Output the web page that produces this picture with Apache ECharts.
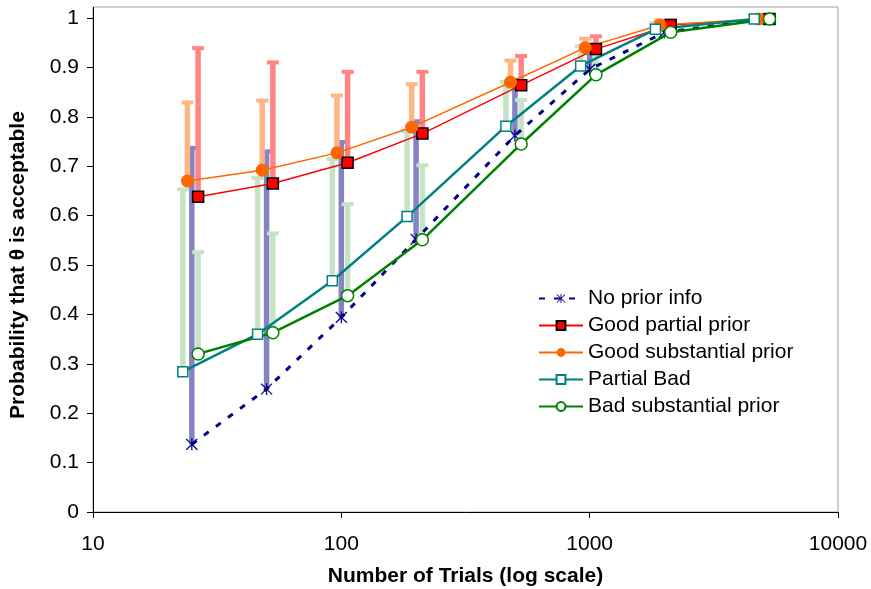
<!DOCTYPE html>
<html><head><meta charset="utf-8">
<script src="https://cdn.jsdelivr.net/npm/echarts@6/dist/echarts.min.js"></script>
<style>html,body{margin:0;padding:0;background:#fff}#c{width:871px;height:589px}</style>
</head><body><div id="c"></div>
<script>
// ---- data ----
const seriesNames = ['No prior info','Good partial prior','Good substantial prior','Partial Bad','Bad substantial prior'];
const xTickLabels = [10, 100, 1000, 10000];
const yTickLabels = [0,0.1,0.2,0.3,0.4,0.5,0.6,0.7,0.8,0.9,1];

// x positions (number of trials) as plotted for each series
const xNoPrior     = [25, 50, 100, 200, 500, 1000, 2000, 5000];
const xGoodPartial = [26.5, 53, 106, 212, 530, 1060, 2120, 5300];
const xGoodSubst   = [24, 48, 96, 192, 480, 960, 1920, 4800];
const xPartialBad  = [23, 46, 92, 184, 460, 920, 1840, 4600];
const xBadSubst    = [26.5, 53, 106, 212, 530, 1060, 2120, 5300];

// probabilities
const yNoPrior     = [0.137, 0.249, 0.394, 0.552, 0.762, 0.896, 0.971, 0.998];
const yGoodPartial = [0.638, 0.665, 0.707, 0.766, 0.864, 0.937, 0.986, 0.998];
const yGoodSubst   = [0.670, 0.692, 0.727, 0.779, 0.870, 0.940, 0.986, 0.998];
const yPartialBad  = [0.284, 0.360, 0.468, 0.598, 0.781, 0.903, 0.977, 0.998];
const yBadSubst    = [0.320, 0.363, 0.438, 0.551, 0.745, 0.885, 0.971, 0.998];

// upper ends of the error bars
const upNoPrior     = [0.737, 0.730, 0.749, 0.791, 0.875, 0.929, 0.990, 1.0];
const upGoodPartial = [0.939, 0.910, 0.891, 0.891, 0.923, 0.963, 0.995, 1.0];
const upGoodSubst   = [0.829, 0.833, 0.843, 0.866, 0.914, 0.958, 0.995, 1.0];
const upPartialBad  = [0.653, 0.676, 0.715, 0.771, 0.871, 0.943, 0.990, 1.0];
const upBadSubst    = [0.526, 0.564, 0.623, 0.702, 0.834, 0.935, 0.990, 1.0];

// ---- chart ----
const FONT = "'Liberation Sans', Arial, sans-serif";
const zip2 = (xs, ys) => xs.map((x, i) => [x, ys[i]]);
const zip3 = (xs, ys, us) => xs.map((x, i) => [x, ys[i], us[i]]);

function errBar(name, xs, ys, us, color) {
  return {
    name: name, type: 'custom', silent: true, clip: false, z: 1,
    data: zip3(xs, ys, us),
    encode: { x: 0, y: [1, 2] },
    renderItem: function (params, api) {
      const x = api.value(0);
      const p0 = api.coord([x, api.value(1)]);
      const p1 = api.coord([x, api.value(2)]);
      const bw = 5.5, cw = 12, ch = 4;
      const h = p0[1] - p1[1];
      if (h < 1) return null;
      return {
        type: 'group',
        children: [
          { type: 'rect', shape: { x: p0[0] - bw / 2, y: p1[1], width: bw, height: h }, style: { fill: color } },
          { type: 'rect', shape: { x: p0[0] - cw / 2, y: p1[1] - ch / 2, width: cw, height: ch }, style: { fill: color } }
        ]
      };
    }
  };
}

const asterisk = 'path://M9,0 L11,0 L11,20 L9,20 Z M1.7,0.3 L19.7,18.3 L18.3,19.7 L0.3,1.7 Z M18.3,0.3 L19.7,1.7 L1.7,19.7 L0.3,18.3 Z';

const chart = echarts.init(document.getElementById('c'), null, { renderer: 'canvas' });
chart.setOption({
  animation: false,
  backgroundColor: '#fff',
  textStyle: { fontFamily: FONT },
  grid: { left: 93, right: 33, top: 18, bottom: 77, containLabel: false, outerBoundsMode: 'none' },
  graphic: [
    { type: 'rect', z: -1, shape: { x: 93, y: 7, width: 745, height: 505 }, style: { fill: 'none', stroke: '#a0a0a0', lineWidth: 1 } },
    { type: 'line', z: 10, shape: { x1: 93.5, y1: 7, x2: 93.5, y2: 18 }, style: { stroke: '#000', lineWidth: 1 } }
  ],
  legend: {
    orient: 'vertical', left: 533, top: 283,
    itemWidth: 44, itemHeight: 11, itemGap: 6,
    textStyle: { fontFamily: FONT, fontSize: 21, color: '#000' },
    data: seriesNames
  },
  xAxis: {
    type: 'log', logBase: 10, min: xTickLabels[0], max: xTickLabels[xTickLabels.length - 1],
    name: 'Number of Trials (log scale)', nameLocation: 'middle', nameGap: 54,
    nameTextStyle: { fontFamily: FONT, fontSize: 21, fontWeight: 'bold', color: '#000' },
    axisLine: { lineStyle: { color: '#000', width: 1 } },
    axisTick: { show: true, inside: false, length: 6, lineStyle: { color: '#000' } },
    minorTick: { show: false },
    splitLine: { show: false },
    axisLabel: { fontFamily: FONT, fontSize: 21, color: '#000', margin: 22,
      formatter: v => String(Math.round(v)) }
  },
  yAxis: {
    type: 'value', min: yTickLabels[0], max: yTickLabels[yTickLabels.length - 1], interval: 0.1,
    name: 'Probability that θ is acceptable', nameLocation: 'middle', nameGap: 64, nameRotate: 90,
    nameTextStyle: { fontFamily: FONT, fontSize: 21, fontWeight: 'bold', color: '#000' },
    axisLine: { show: true, lineStyle: { color: '#000', width: 1 } },
    axisTick: { show: true, inside: false, length: 6, lineStyle: { color: '#000' } },
    splitLine: { show: false },
    axisLabel: { fontFamily: FONT, fontSize: 21, color: '#000', margin: 14,
      formatter: v => (v === 0 || v === 1) ? String(v) : v.toFixed(1) }
  },
  series: [
    errBar('eb-noprior', xNoPrior, yNoPrior, upNoPrior, '#8484c2'),
    errBar('eb-partialbad', xPartialBad, yPartialBad, upPartialBad, '#c6e3c6'),
    errBar('eb-badsubst', xBadSubst, yBadSubst, upBadSubst, '#c6e3c6'),
    errBar('eb-goodsubst', xGoodSubst, yGoodSubst, upGoodSubst, '#ffb584'),
    errBar('eb-goodpartial', xGoodPartial, yGoodPartial, upGoodPartial, '#ff8484'),
    {
      name: seriesNames[0], type: 'line', z: 3, clip: false, data: zip2(xNoPrior, yNoPrior),
      symbol: asterisk, symbolSize: 12,
      lineStyle: { color: '#000080', width: 3, type: [6, 9] },
      itemStyle: { color: '#000080' }
    },
    {
      name: seriesNames[1], type: 'line', z: 4, clip: false, data: zip2(xGoodPartial, yGoodPartial),
      symbol: 'rect', symbolSize: 11,
      lineStyle: { color: '#ff0000', width: 1.5 },
      itemStyle: { color: '#ff0000', borderColor: '#000', borderWidth: 1.5 }
    },
    {
      name: seriesNames[2], type: 'line', z: 4, clip: false, data: zip2(xGoodSubst, yGoodSubst),
      symbol: 'circle', symbolSize: 13,
      lineStyle: { color: '#ff6600', width: 1.5 },
      itemStyle: { color: '#ff6600', borderColor: '#ff6600', borderWidth: 0 }
    },
    {
      name: seriesNames[3], type: 'line', z: 4, clip: false, data: zip2(xPartialBad, yPartialBad),
      symbol: 'rect', symbolSize: 10,
      lineStyle: { color: '#008080', width: 2.5 },
      itemStyle: { color: '#ffffff', borderColor: '#008080', borderWidth: 1.5 }
    },
    {
      name: seriesNames[4], type: 'line', z: 4, clip: false, data: zip2(xBadSubst, yBadSubst),
      symbol: 'circle', symbolSize: 12,
      lineStyle: { color: '#008000', width: 2.5 },
      itemStyle: { color: '#ffffff', borderColor: '#008000', borderWidth: 1.5 }
    }
  ]
});
</script>
</body></html>
